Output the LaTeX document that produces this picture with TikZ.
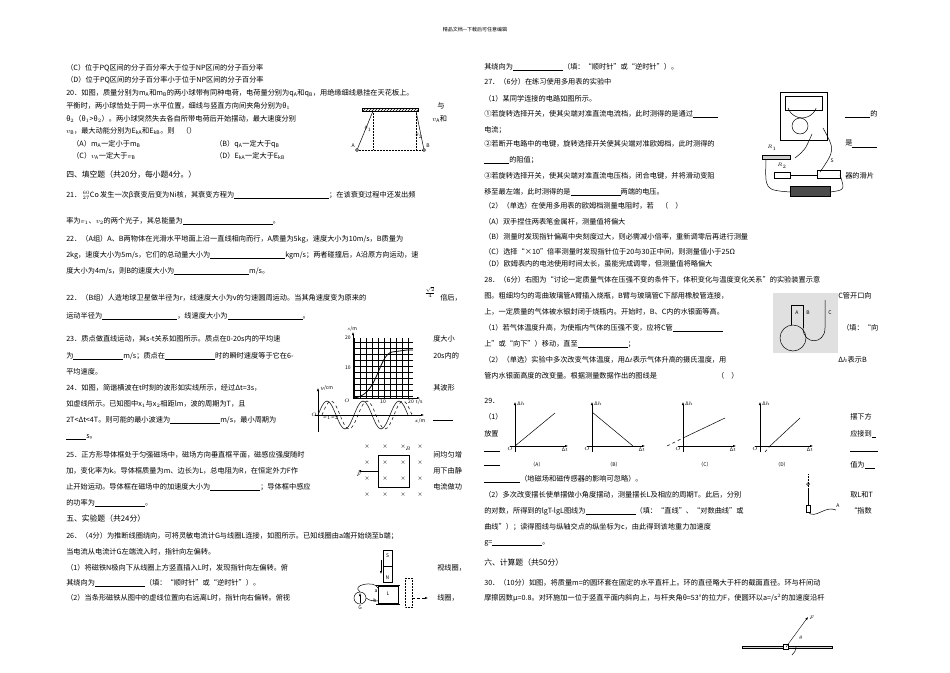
\documentclass[tikz,border=0pt]{standalone}
\usepackage{fontspec}
\setmainfont{Noto Sans CJK SC}
\usetikzlibrary{arrows.meta,patterns}
\newcommand\ft{\fontsize{7.2}{8}\selectfont}
\tikzset{txt/.style={anchor=west,inner sep=0,font=\ft},
  ax/.style={-{Latex[length=3pt]},thin},
  cr/.style={inner sep=0,font=\tiny}}
\begin{document}
\begin{tikzpicture}[x=1pt,y=-1pt,line width=0.5pt]
\useasboundingbox (0,0) rectangle (950,672);
\node[anchor=center,inner sep=0,font=\fontsize{5}{6}\selectfont] (head) at (475,30) {精品文档---下载后可任意编辑};
% left column
\node[txt] (l1) at (66,68) {（C）位于PQ区间的分子百分率大于位于NP区间的分子百分率};
\node[txt] (l2) at (66,80) {（D）位于PQ区间的分子百分率小于位于NP区间的分子百分率};
\node[txt] (l3) at (66,93) {20．如图，质量分别为m$_\mathrm{A}$和m$_\mathrm{B}$的两小球带有同种电荷，电荷量分别为q$_\mathrm{A}$和q$_\mathrm{B}$，用绝缘细线悬挂在天花板上。};
\node[txt] (l4) at (66,106) {平衡时，两小球恰处于同一水平位置，细线与竖直方向间夹角分别为θ$_1$};
\node[txt] (l4b) at (437,106) {与};
\node[txt] (l5) at (66,119) {θ$_2$（θ$_1$>θ$_2$）。两小球突然失去各自所带电荷后开始摆动，最大速度分别};
\node[txt] (l5b) at (432,119) {$v_\mathrm{A}$和};
\node[txt] (l6) at (66,131) {$v_\mathrm{B}$，最大动能分别为E$_\mathrm{kA}$和E$_\mathrm{kB}$。则\quad（）};
\node[txt] (l7) at (72,144) {（A）m$_\mathrm{A}$一定小于m$_\mathrm{B}$};
\node[txt] (l7b) at (215,144) {（B）q$_\mathrm{A}$一定大于q$_\mathrm{B}$};
\node[txt] (l8) at (72,156) {（C）$v_\mathrm{A}$一定大于$v_\mathrm{B}$};
\node[txt] (l8b) at (215,156) {（D）E$_\mathrm{kA}$一定大于E$_\mathrm{kB}$};
\node[txt,font=\fontsize{7.8}{9}\selectfont] (s4) at (66,175) {四、填空题（共20分，每小题4分。）};
\node[txt] (l9) at (66,195) {21．\,$^{60}_{27}$Co\,发生一次β衰变后变为Ni核，其衰变方程为\underline{\hspace{95pt}}；在该衰变过程中还发出频};
\node[txt] (l10) at (66,221) {率为$v_1$、$v_2$的两个光子，其总能量为\underline{\hspace{90pt}}。};
\node[txt] (l11) at (66,239) {22．（A组）A、B两物体在光滑水平地面上沿一直线相向而行，A质量为5kg，速度大小为10m/s，B质量为};
\node[txt] (l12) at (66,255) {2kg，速度大小为5m/s，它们的总动量大小为\underline{\hspace{75pt}}kgm/s；两者碰撞后，A沿原方向运动，速};
\node[txt] (l13) at (66,271) {度大小为4m/s，则B的速度大小为\underline{\hspace{75pt}}m/s。};
\node[txt] (l14) at (66,298) {22．（B组）人造地球卫星做半径为r，线速度大小为v的匀速圆周运动。当其角速度变为原来的};
\node[inner sep=0,font=\ft] (frac) at (430,292) {$\frac{\sqrt{2}}{4}$};
\node[txt] (l14b) at (440,298) {倍后，};
\node[txt] (l15) at (66,316) {运动半径为\underline{\hspace{75pt}}，线速度大小为\underline{\hspace{75pt}}。};
\node[txt] (l16) at (66,339) {23．质点做直线运动，其s-t关系如图所示。质点在0-20s内的平均速};
\node[txt] (l16b) at (433,339) {度大小};
\node[txt] (l17) at (66,356) {为\underline{\hspace{50pt}}m/s；质点在\underline{\hspace{50pt}}时的瞬时速度等于它在6-};
\node[txt] (l17b) at (433,356) {20s内的};
\node[txt] (l18) at (66,372) {平均速度。};
\node[txt] (l19) at (66,388) {24．如图，简谐横波在t时刻的波形如实线所示，经过Δt=3s，};
\node[txt] (l19b) at (433,388) {其波形};
\node[txt] (l20) at (66,404) {如虚线所示。已知图中x$_1$与x$_2$相距lm，波的周期为T，且};
\node[txt] (l21) at (66,420) {2T<Δt<4T。则可能的最小波速为\underline{\hspace{50pt}}m/s，最小周期为};
\node[txt] (l21b) at (433,420) {\underline{\hspace{20pt}}};
\node[txt] (l22) at (66,437) {\underline{\hspace{20pt}}s。};
\node[txt] (l23) at (66,455) {25．正方形导体框处于匀强磁场中，磁场方向垂直框平面，磁感应强度随时};
\node[txt] (l23b) at (433,455) {间均匀增};
\node[txt] (l24) at (66,471) {加，变化率为k。导体框质量为m、边长为L，总电阻为R，在恒定外力F作};
\node[txt] (l24b) at (433,471) {用下由静};
\node[txt] (l26) at (66,487) {止开始运动。导体框在磁场中的加速度大小为\underline{\hspace{50pt}}；导体框中感应};
\node[txt] (l26b) at (433,487) {电流做功};
\node[txt] (l28) at (66,503) {的功率为\underline{\hspace{50pt}}。};
\node[txt,font=\fontsize{7.8}{9}\selectfont] (s5) at (66,519) {五、实验题（共24分）};
\node[txt] (l29) at (66,536) {26．（4分）为推断线圈绕向，可将灵敏电流计G与线圈L连接，如图所示。已知线圈由a端开始绕至b端；};
\node[txt] (l30) at (66,552) {当电流从电流计G左端流入时，指针向左偏转。};
\node[txt] (l31) at (66,568) {（1）将磁铁N极向下从线圈上方竖直插入L时，发现指针向左偏转。俯};
\node[txt] (l31b) at (437,568) {视线圈，};
\node[txt] (l32) at (66,583) {其绕向为\underline{\hspace{50pt}}（填：“顺时针”或“逆时针”）。};
\node[txt] (l33) at (66,598) {（2）当条形磁铁从图中的虚线位置向右远离L时，指针向右偏转。俯视};
\node[txt] (l33b) at (437,598) {线圈，};
% right column
\node[txt] (r1) at (484,67) {其绕向为\underline{\hspace{50pt}}（填：“顺时针”或“逆时针”）。};
\node[txt] (r2) at (484,82) {27．（6分）在练习使用多用表的实验中};
\node[txt] (r3) at (484,99) {（1）某同学连接的电路如图所示。};
\node[txt] (r4) at (484,114) {①若旋转选择开关，使其尖端对准直流电流档，此时测得的是通过\underline{\hspace{25pt}}};
\node[txt] (r4b) at (845,114) {\underline{\hspace{25pt}}的};
\node[txt] (r5) at (484,130) {电流；};
\node[txt] (r6) at (484,144) {②若断开电路中的电键，旋转选择开关使其尖端对准欧姆档，此时测得的};
\node[txt] (r6b) at (845,144) {是\underline{\hspace{25pt}}};
\node[txt] (r7) at (484,160) {\underline{\hspace{25pt}}的阻值；};
\node[txt] (r8) at (484,176) {③若旋转选择开关，使其尖端对准直流电压档，闭合电键，并将滑动变阻};
\node[txt] (r8b) at (845,176) {器的滑片};
\node[txt] (r9) at (484,192) {移至最左端，此时测得的是\underline{\hspace{50pt}}两端的电压。};
\node[txt] (r10) at (484,206) {（2）（单选）在使用多用表的欧姆档测量电阻时，若\quad（\quad）};
\node[txt] (r11) at (484,222) {（A）双手捏住两表笔金属杆，测量值将偏大};
\node[txt] (r12) at (484,237) {（B）测量时发现指针偏离中央刻度过大，则必需减小倍率，重新调零后再进行测量};
\node[txt] (r13) at (484,252) {（C）选择“×10”倍率测量时发现指针位于20与30正中间，则测量值小于25Ω};
\node[txt] (r14) at (484,264) {（D）欧姆表内的电池使用时间太长，虽能完成调零，但测量值将略偏大};
\node[txt] (r15) at (484,280) {28．（6分）右图为“讨论一定质量气体在压强不变的条件下，体积变化与温度变化关系”的实验装置示意};
\node[txt] (r16) at (484,296) {图。粗细均匀的弯曲玻璃管A臂插入烧瓶，B臂与玻璃管C下部用橡胶管连接，};
\node[txt] (r16b) at (838,296) {C管开口向};
\node[txt] (r17) at (484,312) {上，一定质量的气体被水银封闭于烧瓶内。开始时，B、C内的水银面等高。};
\node[txt] (r18) at (484,328) {（1）若气体温度升高，为使瓶内气体的压强不变，应将C管\underline{\hspace{50pt}}};
\node[txt] (r18b) at (842,328) {（填：“向};
\node[txt] (r19) at (484,344) {上”或“向下”）移动，直至\underline{\hspace{50pt}}；};
\node[txt] (r20) at (484,360) {（2）（单选）实验中多次改变气体温度，用Δ$t$表示气体升高的摄氏温度，用};
\node[txt] (r20b) at (838,360) {Δ$h$表示B};
\node[txt] (r21) at (484,376) {管内水银面高度的改变量。根据测量数据作出的图线是\hspace{60pt}（\quad）};
\node[txt] (r22) at (484,401) {29．};
\node[txt] (r23) at (484,417) {（1）};
\node[txt] (r23b) at (850,417) {摆下方};
\node[txt] (r24) at (484,434) {放置};
\node[txt] (r24b) at (850,434) {应接到\underline{\hspace{4pt}}};
\node[txt] (r25) at (484,451) {\underline{\hspace{16pt}}};
\node[txt] (r25b) at (850,451) {\underline{\hspace{28pt}}};
\node[txt] (r26) at (484,465) {\underline{\hspace{16pt}}};
\node[txt] (r26b) at (850,465) {值为\underline{\hspace{10pt}}};
\node[txt] (r27) at (484,479) {\underline{\hspace{36pt}}（地磁场和磁传感器的影响可忽略）。};
\node[txt] (r28) at (484,495) {（2）多次改变摆长使单摆做小角度摆动，测量摆长L及相应的周期T。此后，分别};
\node[txt] (r28b) at (850,495) {取L和T};
\node[txt] (r29) at (484,511) {的对数，所得到的lgT-lgL图线为\underline{\hspace{50pt}}（填：“直线”、“对数曲线”或};
\node[txt] (r29b) at (850,511) {“指数};
\node[txt] (r30) at (484,527) {曲线”）；读得图线与纵轴交点的纵坐标为c，由此得到该地重力加速度};
\node[txt] (r31) at (484,543) {g=\underline{\hspace{50pt}}。};
\node[txt,font=\fontsize{7.8}{9}\selectfont] (s6) at (484,563) {六、计算题（共50分）};
\node[txt] (r32) at (484,583) {30．（10分）如图，将质量m=的圆环套在固定的水平直杆上。环的直径略大于杆的截面直径。环与杆间动};
\node[txt] (r33) at (484,598) {摩擦因数μ=0.8。对环施加一位于竖直平面内斜向上，与杆夹角θ=53°的拉力F，使圆环以a=/s$^2$的加速度沿杆};
% fig 20: pendulums
\draw[pattern=north east lines] (362,108) rectangle (418,111);
\coordinate (pa) at (373,111); \coordinate (pb) at (416,111);
\node[circle,draw,inner sep=1pt] (ba) at (357,150) {};
\node[circle,draw,inner sep=1pt] (bb) at (424,150) {};
\draw (pa) -- (ba); \draw (pb) -- (bb);
\draw[densely dotted] (pa) -- (373,150) (pb) -- (416,150) (ba) -- (bb);
\node[cr] (tha) at (368,129) {$\theta_1$};
\node[cr] (thb) at (419,136) {$\theta_2$};
\node[cr,anchor=east] (la) at (355,146) {A};
\node[cr,anchor=west] (lb) at (426,146) {B};
% fig 23: s-t graph
\draw[step=6pt,thin] (353,338) grid (413,398);
\draw[ax] (353,398) -- (353,332);
\draw[ax] (353,398) -- (420,398);
\draw[thick] (353,398) .. controls (378,397) and (378,355) .. (392,352) -- (407,350) -- (413,350);
\node[cr,anchor=south] (sm) at (352,332) {$s$/m};
\node[cr,anchor=east] (y20) at (351,338) {20};
\node[cr,anchor=east] (y10) at (351,368) {10};
\node[cr,anchor=east] (o23) at (350,401) {$O$};
\node[cr,anchor=north] (x10) at (383,400) {10};
\node[cr,anchor=north] (x20) at (411,400) {20};
\node[cr,anchor=north west] (ts) at (415,399) {$t$/s};
% fig 24: wave
\draw[ax] (318,432) -- (318,388);
\draw[ax] (315,415) -- (424,415);
\draw (318,415) sin (327,401) cos (336,415) sin (345,429) cos (354,415) sin (363,401) cos (372,415) sin (381,429) cos (390,415) sin (399,401) cos (408,415);
\draw[dashed] (322,415) sin (331,401) cos (340,415) sin (349,429) cos (358,415) sin (367,401) cos (376,415) sin (385,429) cos (394,415) sin (403,401) cos (412,415);
\node[cr,anchor=west] (ycm) at (320,388) {$y$/cm};
\node[cr,anchor=east] (o24) at (317,415) {$O$};
\node[cr,anchor=north] (xm) at (420,418) {$x$/m};
\node[cr,anchor=north] (x12) at (331,416) {$x_1x_2$};
% fig 25: field
\foreach \i in {367,385,403,420} \foreach \j in {447,463,479,495}
  \node[cr] at (\i,\j) {×};
\draw (378,455) rectangle (409,487);
\node[cr] (bl) at (408,449) {$B$};
\coordinate (fe) at (358,471);
\draw[ax] (378,471) -- (fe);
\node[cr,anchor=north] (fl) at (359,473) {$F$};
% fig 26: coil and magnet
\draw (383,550) rectangle (392,582); \draw (383,566) -- (392,566);
\node[cr] (ms) at (387.5,556) {S}; \node[cr] (mn) at (387.5,578) {N};
\draw[ax] (381,560) -- (381,574);
\draw (378,586) rectangle (398,603); \draw (376,585) -- (400,585) (376,604) -- (400,604);
\node[cr] (cl) at (388,594) {L};
\node[circle,draw,minimum size=12pt,inner sep=0] (g) at (360,598) {};
\draw[ax] (360,603) -- (360,593);
\node[cr,anchor=north] (gl) at (360,606) {G};
\draw (g.north) .. controls (350,585) and (375,580) .. (378,588);
\draw (g.east) .. controls (372,602) and (372,600) .. (378,601);
\node[cr] (ca) at (376,591) {a}; \node[cr] (cb) at (375,601) {b};
\draw[densely dotted] (405,578) rectangle (412,607);
\draw[densely dashed,-{Latex[length=3pt]}] (412,598) -- (428,598);
% fig 27: multimeter
\draw[fill=white] (780,92) rectangle (827,140);
\draw (785,96) rectangle (822,110);
\draw (788,108) arc (160:20:15);
\node[circle,draw,minimum size=16pt,inner sep=0] (sel) at (800,126) {};
\draw (823,128) .. controls (835,150) .. (820,172);
\draw (812,134) .. controls (805,150) .. (795,158);
\node[cr] (r1l) at (772,148) {$R_1$};
\draw[fill=gray!40] (762,155) rectangle (790,159);
\node[cr] (r2l) at (782,166) {$R_2$};
\draw (774,172) rectangle (790,178);
\node[cr] (sl) at (832,161) {S};
\draw (817,170) rectangle (840,178);
\draw[fill=black!70] (790,186) rectangle (830,196);
\draw (766,160) .. controls (765,190) .. (790,192);
\draw (830,192) .. controls (845,190) .. (840,175);
\draw (790,175) -- (817,175);
% fig 28: gas apparatus
\draw[fill=black!12,draw=none] (773,293) rectangle (838,353);
\draw (793,338) circle (13);
\draw (791,325) -- (791,305) -- (803,305) -- (803,328);
\draw (803,328) .. controls (803,345) and (825,345) .. (825,328) -- (825,300);
\node[cr] (ga) at (797,313) {A}; \node[cr] (gb) at (808,313) {B}; \node[cr] (gc) at (830,313) {C};
% fig 29: graphs
\foreach \ox/\nm in {515/A,592/B,683/C,760/D}{
  \draw[ax] (\ox-5,446) -- (\ox+53,446);
  \draw[ax] (\ox,452) -- (\ox,402);
  \node[cr,anchor=west] at (\ox+2,404) {Δ$h$};
  \node[cr,anchor=north east] at (\ox-2,447) {$O$};
  \node[cr,anchor=north] at (\ox+50,448) {Δ$t$};
  \node[cr] at (\ox+22,465) {（\nm）};
}
\draw (515,446) -- (555,413);
\draw (592,412) -- (633,446);
\draw (683,438) -- (725,418); \draw[dashed] (667,446) -- (683,438);
\draw (770,446) -- (800,418); \draw[dashed] (765,452) -- (770,446);
% fig 29: pendulum
\draw[densely dotted] (808,474) -- (808,490);
\node[circle,draw,inner sep=1pt] (bob) at (808,484) {};
\draw (808,490) -- (808,505);
\draw (806,505) rectangle (810,512);
\draw (808,512) .. controls (815,520) and (825,505) .. (836,510);
\node[cr] (sa) at (838,506) {A};
% fig 30: ring on rod
\draw[fill=gray!30] (742,646) rectangle (832,648.5);
\node[draw,fill=white,minimum size=5pt,inner sep=0,line width=0.8pt] (ring) at (786,647) {};
\draw[ax] (ring.center) -- (808,617);
\draw (796,647) arc (0:54:10);
\node[cr] (fl2) at (812,618) {$F$};
\node[cr] (thl) at (801,638) {$\theta$};
\end{tikzpicture}
\end{document}
